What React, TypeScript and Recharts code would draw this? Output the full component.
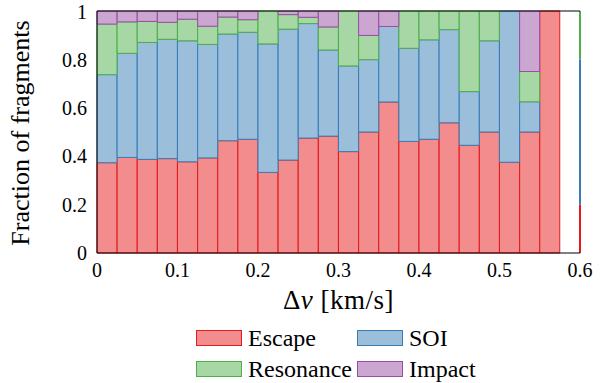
import { BarChart, Bar, XAxis, YAxis, Legend, ReferenceLine } from 'recharts'

// left edge of each Δv bin (km/s), bin width 0.025
const binStart = [0, 0.025, 0.05, 0.075, 0.1, 0.125, 0.15, 0.175, 0.2, 0.225, 0.25, 0.275, 0.3, 0.325, 0.35, 0.375, 0.4, 0.425, 0.45, 0.475, 0.5, 0.525, 0.55]
const binWidth = 0.025

const escape = [0.373, 0.395, 0.387, 0.39, 0.377, 0.393, 0.464, 0.47, 0.333, 0.384, 0.475, 0.483, 0.419, 0.5, 0.624, 0.461, 0.47, 0.538, 0.445, 0.5, 0.375, 0.5, 1]
const soi = [0.364, 0.43, 0.483, 0.493, 0.5, 0.469, 0.441, 0.442, 0.531, 0.541, 0.473, 0.356, 0.354, 0.299, 0.312, 0.385, 0.411, 0.385, 0.222, 0.377, 0.625, 0.125, 0]
const resonance = [0.209, 0.13, 0.087, 0.07, 0.089, 0.075, 0.07, 0.052, 0.136, 0.06, 0.026, 0.095, 0.227, 0.1, 0, 0.154, 0.119, 0.077, 0.333, 0.123, 0, 0.125, 0]
const impact = [0.054, 0.045, 0.043, 0.047, 0.034, 0.063, 0.025, 0.036, 0, 0.015, 0.026, 0.066, 0, 0.101, 0.064, 0, 0, 0, 0, 0, 0, 0.25, 0]

const xTicks = [0, 0.1, 0.2, 0.3, 0.4, 0.5, 0.6]
const yTicks = [0, 0.2, 0.4, 0.6, 0.8, 1]

const series = [
  { key: 'escape', name: 'Escape', stroke: '#e41a1c', fill: '#f28c8d' },
  { key: 'soi', name: 'SOI', stroke: '#377eb8', fill: '#9bbedb' },
  { key: 'resonance', name: 'Resonance', stroke: '#4daf4a', fill: '#a6d7a4' },
  { key: 'impact', name: 'Impact', stroke: '#984ea3', fill: '#cba6d1' },
]

// colours of the right frame edge, bottom to top
const rightEdge = [
  { from: 0, to: 0.2, color: '#e41a1c' },
  { from: 0.2, to: 0.8, color: '#377eb8' },
  { from: 0.8, to: 1, color: '#4daf4a' },
]

const data = binStart.map((b, i) => ({
  x: b + binWidth / 2,
  escape: escape[i],
  soi: soi[i],
  resonance: resonance[i],
  impact: impact[i],
}))

const font = 'Liberation Serif, DejaVu Serif, Times New Roman, serif'

function LegendBox() {
  return (
    <div style={{ display: 'grid', gridTemplateColumns: '161px auto', gridAutoRows: '31px', fontFamily: font, fontSize: 24, color: '#000' }}>
      {series.map((s) => (
        <div key={s.key} style={{ display: 'flex', alignItems: 'center' }}>
          <span style={{ display: 'inline-block', width: 44, height: 14, background: s.fill, border: `1px solid ${s.stroke}`, marginRight: 6 }} />
          <span style={{ lineHeight: '24px', fontFamily: font }}>{s.name}</span>
        </div>
      ))}
    </div>
  )
}

export default function App() {
  return (
    <div style={{ position: 'absolute', left: 0, top: 0, fontFamily: font }}>
      <BarChart width={611} height={383} data={data} margin={{ top: 10, right: 31, left: 0, bottom: 0 }}>
        <XAxis
          dataKey="x"
          type="number"
          domain={[0, 0.6]}
          ticks={xTicks}
          height={130}
          tickSize={0}
          tickMargin={10}
          tickLine={false}
          axisLine={{ stroke: '#000' }}
          tick={{ fill: '#000', fontSize: 20, fontFamily: font }}
          label={{
            content: ({ viewBox }: any) => (
              <text x={viewBox.x + viewBox.width / 2} y={viewBox.y + 56} textAnchor="middle" fontSize={27} letterSpacing={0.5} fontFamily={font} fill="#000">
                Δ<tspan fontStyle="italic">v</tspan> [km/s]
              </text>
            ),
          }}
        />
        <XAxis xAxisId="top" orientation="top" type="number" domain={[0, 0.6]} height={1} tick={false} tickLine={false} axisLine={{ stroke: '#000' }} />
        <YAxis
          type="number"
          domain={[0, 1]}
          ticks={yTicks}
          width={97}
          tickSize={0}
          tickMargin={10}
          tickLine={false}
          axisLine={{ stroke: '#000' }}
          tick={{ fill: '#000', fontSize: 20, fontFamily: font }}
          label={{
            content: () => (
              <text x={29} y={133} transform="rotate(-90, 29, 133)" textAnchor="middle" fontSize={26} fontFamily={font} fill="#000">
                Fraction of fragments
              </text>
            ),
          }}
        />
        {series.map((s) => (
          <Bar key={s.key} dataKey={s.key} name={s.name} stackId="a" barSize={20} fill={s.fill} stroke={s.stroke} strokeWidth={1} isAnimationActive={false} />
        ))}
        {rightEdge.map((seg) => (
          <ReferenceLine key={seg.color} segment={[{ x: 0.6, y: seg.from }, { x: 0.6, y: seg.to }]} stroke={seg.color} strokeWidth={2} ifOverflow="visible" />
        ))}
        <Legend
          layout="horizontal"
          verticalAlign="middle"
          align="center"
          wrapperStyle={{ top: 322, left: 196, width: 320, height: 62 }}
          content={() => <LegendBox />}
        />
      </BarChart>
    </div>
  )
}
